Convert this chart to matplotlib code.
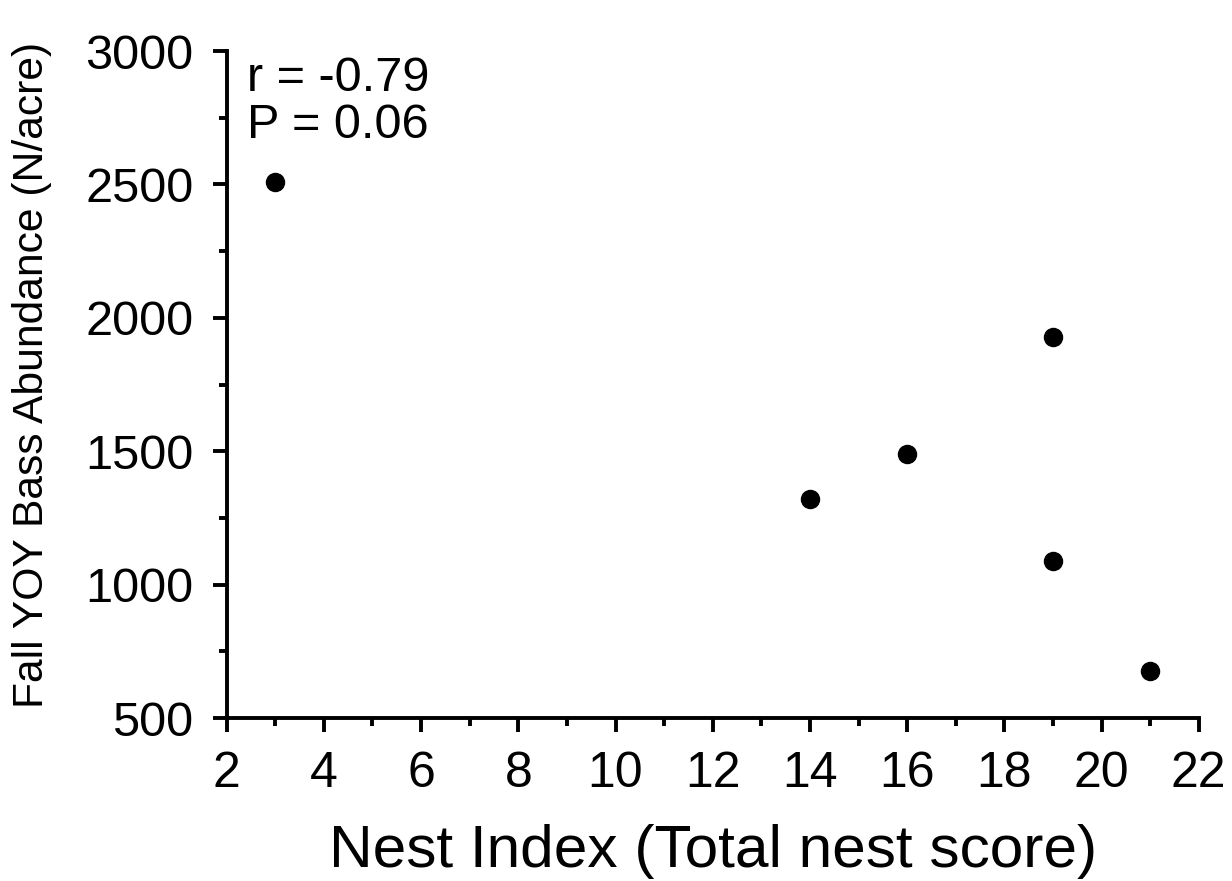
import matplotlib
matplotlib.use("Agg")
import matplotlib.pyplot as plt
from matplotlib.ticker import MultipleLocator

# values
nest_index = [3, 14, 16, 19, 19, 21]
abundance = [2510, 1320, 1490, 1930, 1090, 675]
x_ticks = [2, 4, 6, 8, 10, 12, 14, 16, 18, 20, 22]
y_ticks = [500, 1000, 1500, 2000, 2500, 3000]


def main():
	plt.rcParams["font.family"] = ["Liberation Sans", "DejaVu Sans"]
	fig = plt.figure(figsize=(12.32, 8.81), dpi=100)
	ax = fig.add_axes([0.184, 0.185, 0.789, 0.757])

	ax.plot(nest_index, abundance, "o", color="black", markersize=13, clip_on=False)

	ax.set_xlim(2, 22)
	ax.set_ylim(500, 3000)
	ax.set_xticks(x_ticks)
	ax.set_yticks(y_ticks)
	ax.xaxis.set_minor_locator(MultipleLocator(1))
	ax.yaxis.set_minor_locator(MultipleLocator(250))

	for side in ["top", "right"]:
		ax.spines[side].set_visible(False)
	for side in ["left", "bottom"]:
		ax.spines[side].set_linewidth(2.8)

	ax.tick_params(which="major", direction="out", length=10, width=2.8, labelsize=35)
	ax.tick_params(which="minor", direction="out", length=6, width=2.8)
	ax.tick_params(axis="x", which="major", pad=14, labelsize=36)
	ax.tick_params(axis="y", which="major", pad=14)

	ax.set_xlabel("Nest Index (Total nest score)", fontsize=43.5, labelpad=19)
	ax.set_ylabel("Fall YOY Bass Abundance (N/acre)", fontsize=30.7)
	ax.yaxis.set_label_coords(-0.18, 0.514)

	ax.text(0.021, 0.993, "r = -0.79\nP = 0.06", transform=ax.transAxes,
		fontsize=35, va="top", ha="left", linespacing=1.05)

	fig.savefig("out.png", dpi=100)


if __name__ == "__main__":
	main()
